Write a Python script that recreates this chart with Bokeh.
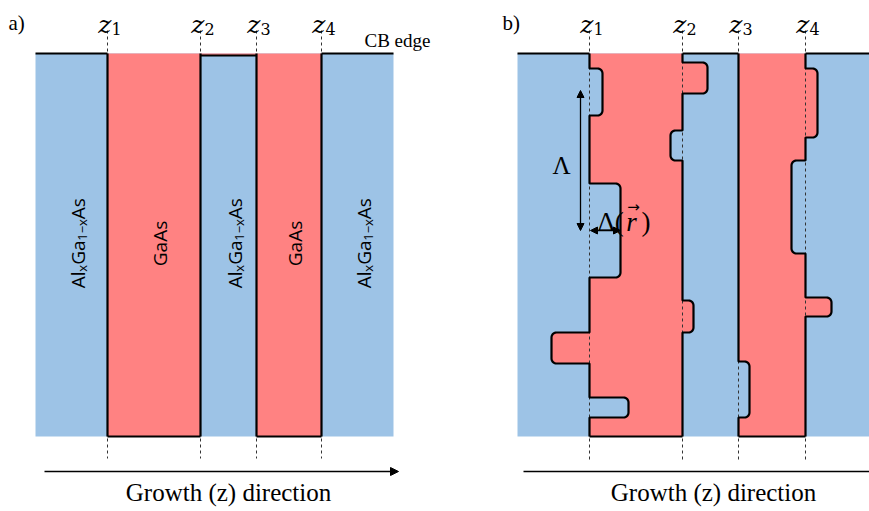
import numpy as np
from bokeh.plotting import figure
from bokeh.models import Range1d, Arrow, NormalHead
from bokeh.core.properties import value
from bokeh.embed import file_html
from bokeh.resources import INLINE

W, H = 869, 511
BLUE = "#9DC3E6"
RED = "#FF8282"
SERIF = "Liberation Serif"
SANS = "Open Sans"

# vertical extent of the conduction-band sketch (figure units, y grows downward)
band_top, band_bottom = 53, 436
dash_top, dash_bottom_a, dash_bottom_b = 30, 458, 462

# panel a): ideal heterostructure
a_left, a_right = 35, 393
z_a = [107, 200, 256, 321]
layer_is_well = [False, True, False, True, False]
middle_barrier_top = 55

# panel b): rough interfaces
b_left, b_right = 517, 869
z_b = [589, 682, 738, 805]
# interface roughness: interface index, start, end, excursion along z
rough_iface = [0, 0, 0, 0, 1, 1, 1, 2, 3, 3, 3]
rough_y0 = [68, 183, 332, 397, 62, 130, 300, 361, 68, 160, 297]
rough_y1 = [115, 277, 363, 417, 93, 160, 332, 417, 137, 253, 316]
rough_dz = [13, 31, -38, 39, 25, -12, 11, 11, 12, -14, 26]

z_sub = ["1", "2", "3", "4"]
axis_label = "Growth (z) direction"

# barrier label pieces: (text, is_subscript, advance in px)
barrier_pieces = [("Al", False, 16.5), ("x", True, 7.0), ("Ga", False, 24.0),
                  ("1−x", True, 21.5), ("As", False, 20.5)]
well_label = "GaAs"


def boundary(z, bumps, r=5.0):
    """Interface path from top to bottom with rounded excursions."""
    xs, ys = [z], [band_top]
    for y0, y1, d in sorted(bumps):
        s = np.sign(d)
        rr = min(r, abs(d) / 2, (y1 - y0) / 2)
        xs += [z, z + d - s * rr]
        ys += [y0, y0]
        t = np.linspace(0, np.pi / 2, 8)
        cx, cy = z + d - s * rr, y0 + rr
        xs += list(cx + rr * s * np.sin(t))
        ys += list(cy - rr * np.cos(t))
        cx, cy = z + d - s * rr, y1 - rr
        xs += list(cx + rr * s * np.cos(t))
        ys += list(cy + rr * np.sin(t))
        xs += [z]
        ys += [y1]
    xs.append(z)
    ys.append(band_bottom)
    return xs, ys


p = figure(width=W, height=H, x_range=Range1d(0, W), y_range=Range1d(H, 0),
           output_backend="svg", toolbar_location=None,
           x_axis_location=None, y_axis_location=None, min_border=0)
p.grid.visible = False
p.outline_line_color = None
p.background_fill_color = "white"

# barrier material background
p.quad(left=[a_left, b_left], right=[a_right, b_right], top=[band_top] * 2,
       bottom=[band_bottom] * 2, fill_color=BLUE, line_color=None)
# thin barrier in a) sits slightly below the well continuum
p.quad(left=[z_a[1]], right=[z_a[2]], top=[band_top], bottom=[middle_barrier_top],
       fill_color=RED, line_color=None)


def draw_panel(z, bumps_per_iface, bottom_dash):
    paths = [boundary(z[i], bumps_per_iface[i]) for i in range(4)]
    # quantum wells
    for li, ri in [(0, 1), (2, 3)]:
        lx, ly = paths[li]
        rx, ry = paths[ri]
        p.patch(lx + rx[::-1], ly + ry[::-1], fill_color=RED, line_color=None)
    # nominal interface positions
    for zi in z:
        p.line([zi, zi], [dash_top, bottom_dash], line_color="#333333",
               line_width=1, line_dash="3 3")
    # interface outlines
    for xs, ys in paths:
        p.line(xs, ys, line_color="black", line_width=2.2)
    for li, ri in [(0, 1), (2, 3)]:
        p.line([z[li], z[ri]], [band_bottom, band_bottom], line_color="black", line_width=2.2)
    return paths


draw_panel(z_a, [[], [], [], []], dash_bottom_a)
b_bumps = [[], [], [], []]
for i, y0, y1, d in zip(rough_iface, rough_y0, rough_y1, rough_dz):
    b_bumps[i].append((y0, y1, d))
draw_panel(z_b, b_bumps, dash_bottom_b)

# conduction band edge on the barriers
top_kw = dict(line_color="black", line_width=2.2)
p.line([a_left, z_a[0]], [band_top, band_top], **top_kw)
p.line([z_a[1], z_a[2]], [middle_barrier_top, middle_barrier_top], **top_kw)
p.line([z_a[3], a_right], [band_top, band_top], **top_kw)
p.line([b_left, z_b[0]], [band_top, band_top], **top_kw)
p.line([z_b[1], z_b[2]], [band_top, band_top], **top_kw)
p.line([z_b[3], b_right], [band_top, band_top], **top_kw)

# interface labels z_i
for z in (z_a, z_b):
    p.text(x=[zi + 4 for zi in z], y=[24] * 4, text=["z"] * 4, text_align="right",
           text_baseline="alphabetic", text_font=value("DejaVu Serif"),
           text_font_style="italic", text_font_size="25px", text_color="black")
    p.text(x=[zi + 4 for zi in z], y=[28] * 4, text=z_sub, text_align="left",
           text_baseline="alphabetic", text_font=value("DejaVu Serif"),
           text_font_size="16px", text_color="black")

# layer names, written bottom to top
bounds = [a_left] + z_a + [a_right]
centers = [(bounds[i] + bounds[i + 1]) / 2 for i in range(5)]
label_mid = 243
total = sum(w for _, _, w in barrier_pieces)
for c, well in zip(centers, layer_is_well):
    if well:
        p.text(x=[c + 6], y=[label_mid], text=[well_label], angle=np.pi / 2,
               text_align="center", text_baseline="alphabetic", text_font=value(SANS),
               text_font_size="19px", text_color="black")
        continue
    pos = label_mid + total / 2
    for txt, sub, w in barrier_pieces:
        p.text(x=[c + (10 if sub else 6)], y=[pos], text=[txt], angle=np.pi / 2,
               text_align="left", text_baseline="alphabetic", text_font=value(SANS),
               text_font_size="13px" if sub else "19px", text_color="black")
        pos -= w

# panel tags and band edge note
p.text(x=[8, 502], y=[22, 22], text=["a)", "b)"], text_font=value(SERIF),
       text_font_size="21px", text_baseline="alphabetic", text_color="black")
p.text(x=[364], y=[40], text=["CB edge"], text_font=value(SERIF),
       text_font_size="19px", text_baseline="alphabetic", text_color="black")

# growth direction axes
p.add_layout(Arrow(end=NormalHead(size=8, fill_color="black", line_color="black"),
                   x_start=44, y_start=471, x_end=398, y_end=471, line_width=1.5))
p.line([523, b_right], [471, 471], line_color="black", line_width=1.5)
p.text(x=[228, 713], y=[492, 492], text=[axis_label] * 2, text_align="center",
       text_baseline="middle", text_font=value(SERIF), text_font_size="25px",
       text_color="black")

# roughness length scales
head = dict(size=7, fill_color="black", line_color="black")
p.add_layout(Arrow(start=NormalHead(**head), end=NormalHead(**head),
                   x_start=580, y_start=90, x_end=580, y_end=230, line_width=1.3))
p.add_layout(Arrow(start=NormalHead(**head), end=NormalHead(**head),
                   x_start=590, y_start=230, x_end=620, y_end=230, line_width=1.3))
p.text(x=[561], y=[165], text=["Λ"], text_align="center", text_baseline="middle",
       text_font=value(SERIF), text_font_size="25px", text_color="black")
p.text(x=[597], y=[221], text=["Δ("], text_align="left", text_baseline="alphabetic",
       text_font=value(SERIF), text_font_size="27px", text_color="black")
p.text(x=[631], y=[221], text=["r"], text_align="center", text_baseline="alphabetic",
       text_font=value(SERIF), text_font_style="italic", text_font_size="27px",
       text_color="black")
p.text(x=[633], y=[206], text=["→"], text_align="center", text_baseline="alphabetic",
       text_font=value("DejaVu Sans"), text_font_size="15px", text_color="black")
p.text(x=[641], y=[221], text=[")"], text_align="left", text_baseline="alphabetic",
       text_font=value(SERIF), text_font_size="27px", text_color="black")

open("out.html", "w").write(file_html(p, INLINE))
